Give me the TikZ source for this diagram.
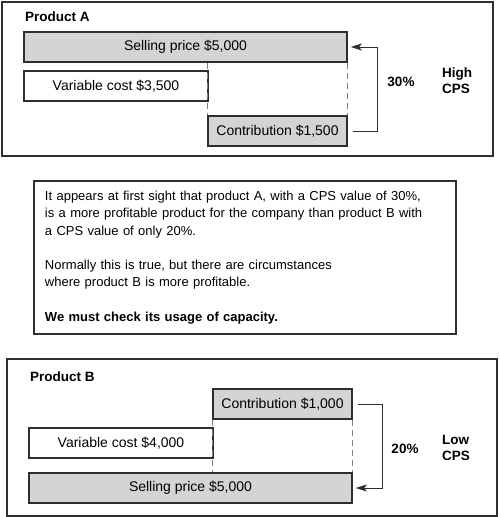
\documentclass[tikz,border=0pt]{standalone}
\usepackage{fontspec}
\setmainfont{Liberation Sans}
\usetikzlibrary{arrows.meta}
\definecolor{bargray}{gray}{0.83}
\definecolor{edge}{gray}{0.18}

\begin{document}
\begin{tikzpicture}[x=1pt, y=-1pt, >={Stealth[length=11pt,width=7pt,inset=2.5pt]},
    font=\fontsize{14}{17}\selectfont,
    panel/.style={draw=edge, line width=1.3pt, inner sep=0pt},
    bar/.style={draw=edge, line width=1.5pt, fill=bargray, minimum height=30pt, inner sep=0pt},
    plain/.style={bar, fill=white},
    link/.style={->, draw=edge, line width=0.9pt, shorten <=5pt, shorten >=3pt},
    guide/.style={draw=gray, line width=0.9pt, dash pattern=on 6pt off 4pt},
    tag/.style={font=\fontsize{13.5}{16}\selectfont\bfseries, inner sep=0pt}]
  \useasboundingbox (0,0) rectangle (500,517);

  % Product A
  \node[panel, minimum width=491pt, minimum height=154pt] (frameA) at (247.5,79) {};
  \node[tag, anchor=west] (nameA) at (25,17) {Product A};
  \node[bar, minimum width=323pt] (priceA) at (185.5,47) {Selling price \$5,000};
  \node[plain, minimum width=184pt] (costA) at (116,86) {Variable cost \$3,500};
  \node[bar, minimum width=139pt] (contA) at (277.5,131) {Contribution \$1,500};
  \draw[guide] (priceA.south -| contA.west) -- (contA.north west);
  \draw[guide] (priceA.south east) -- (contA.north east);
  \draw[link] (contA.east) -- ++(30,0) |- (priceA.east);
  \node[tag] (pctA) at (401,82) {30\%};
  \node[tag, align=left] (cpsA) at (457,81) {High\\CPS};

  % note
  \node[panel, minimum width=422pt, minimum height=153pt, text width=400pt,
        inner xsep=11pt, align=left, font=\fontsize{13}{17.2}\selectfont] (note) at (245,257.5)
        {It appears at first sight that product A, with a CPS value of 30\%,\\
         is a more profitable product for the company than product B with\\
         a CPS value of only 20\%.\\[17.2pt]
         Normally this is true, but there are circumstances\\
         where product B is more profitable.\\[17.2pt]
         \textbf{We must check its usage of capacity.}};

  % Product B
  \node[panel, minimum width=490pt, minimum height=157pt] (frameB) at (252,437.5) {};
  \node[tag, anchor=west] (nameB) at (30,377) {Product B};
  \node[bar, minimum width=139pt] (contB) at (282.5,404) {Contribution \$1,000};
  \node[plain, minimum width=184pt] (costB) at (121,443) {Variable cost \$4,000};
  \node[bar, minimum width=323pt] (priceB) at (190.5,488) {Selling price \$5,000};
  \draw[guide] (contB.south west) -- (priceB.north -| contB.west);
  \draw[guide] (contB.south east) -- (priceB.north east);
  \draw[link] (contB.east) -- ++(30,0) |- (priceB.east);
  \node[tag] (pctB) at (405,449) {20\%};
  \node[tag, align=left] (cpsB) at (456,448) {Low\\CPS};
\end{tikzpicture}
\end{document}
